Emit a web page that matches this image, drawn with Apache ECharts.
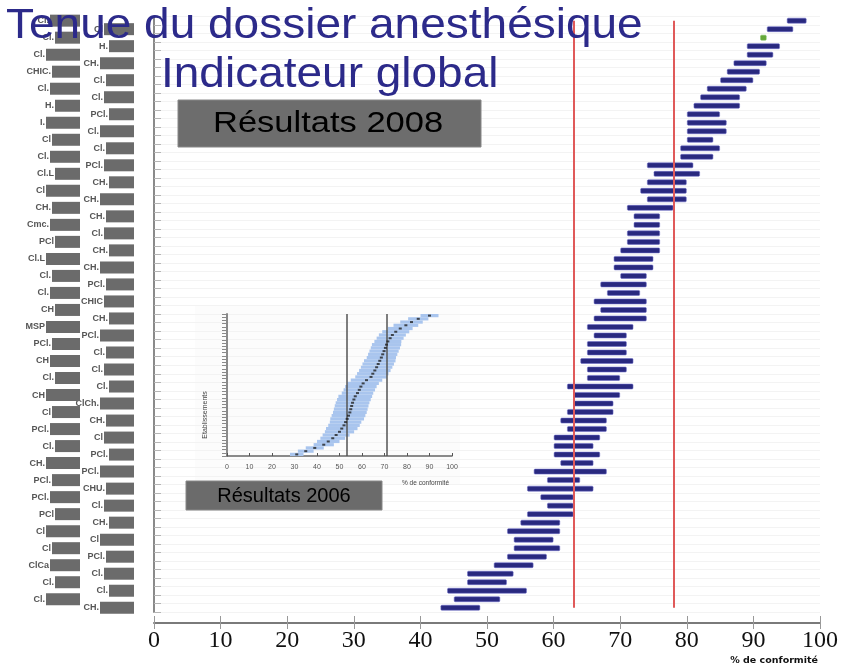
<!DOCTYPE html>
<html><head><meta charset="utf-8">
<script src="https://cdn.jsdelivr.net/npm/echarts@6/dist/echarts.min.js"></script>
<style>html,body{margin:0;padding:0;background:#fff}#c{width:841px;height:669px}</style>
</head><body><div id="c"></div>
<script>
// ---- data: 2008 (one row per establishment, top to bottom) ----
const labelsLeft = ['Cl.','Cl.','Cl.','CHIC.','Cl.','H.','I.','Cl','Cl.','Cl.L','Cl','CH.','Cmc.','PCl','Cl.L','Cl.','Cl.','CH','MSP','PCl.','CH','Cl.','CH','Cl','PCl.','Cl.','CH.','PCl.','PCl.','PCl','Cl','Cl','ClCa','Cl.','Cl.'];
const labelsRight = ['Cl','H.','CH.','Cl.','Cl.','PCl.','Cl.','Cl.','PCl.','CH.','CH.','CH.','Cl.','CH.','CH.','PCl.','CHIC','CH.','PCl.','Cl.','Cl.','Cl.','ClCh.','CH.','Cl','PCl.','PCl.','CHU.','Cl.','CH.','Cl','PCl.','Cl.','Cl.','CH.'];
const low2008  = [95,92,91,89,89,87,86,85,83,82,81,80,80,80,80,79,79,74,75,74,73,74,71,72,72,71,71,70,69,69,70,67,68,66,67,66,65,66,65,65,64,65,65,62,63,63,62,61,62,60,60,60,61,57,59,56,58,59,56,55,53,54,54,53,51,47,47,44,45,43];
const high2008 = [98,96,92,94,93,92,91,90,89,88,88,85,86,86,84,85,84,81,82,80,80,80,78,76,76,76,76,76,75,75,74,74,73,74,74,74,72,71,71,71,72,71,70,72,70,69,69,68,68,67,66,67,66,68,64,66,63,63,63,61,61,60,61,59,57,54,53,56,52,49];
const highlightRow = 2;
const refLines2008 = [63, 78];
const xTicks = [0,10,20,30,40,50,60,70,80,90,100];
// ---- data: 2006 inset (bottom to top) ----
const center2006 = [31,35,39,43,45,47,48.5,50,51,52,52.7,53.4,54,54.6,55,55.4,55.8,56.4,57,58,58.8,59.5,60.5,62,64,64.8,65.7,66.5,67.2,67.9,68.6,69.2,69.8,70.4,70.9,71.5,72.5,73.5,75,77,79.5,82,85,90];
const spread2006 = [3,3.5,4,4.5,5,5.5,6,6.5,7,7,7,7.5,7.5,7.5,7.5,7.5,7.5,7.5,7.5,7,7,7,7,7,7,7,7,7,7,7,6.5,6.5,6.5,6.5,6.5,6,6,6,6,5.5,5.5,5,4.5,4];
const refLines2006 = [53, 71];

// ---- build ----
const cats = [];
for (let i = 0; i < labelsLeft.length; i++) { cats.push(labelsLeft[i]); cats.push(labelsRight[i]); }
const rangeData = high2008.map((h, i) => {
  const item = { value: h - low2008[i] };
  if (i === highlightRow) item.itemStyle = { color: '#66a83a', borderColor: 'rgba(120,190,90,0.5)' };
  return item;
});
const insetCats = center2006.map((_, i) => String(i + 1));
const insetLow = center2006.map((c, i) => c - spread2006[i]);
const insetBand = spread2006.map(s => 2 * s);
const insetPts = center2006.map((c, i) => [c, i]);

const richBoxes = {
  t: { fontSize: 9, fontWeight: 'bold', color: '#555', fontFamily: 'Arial', padding: [0, 1, 0, 0] },
  b0: { width: 30, height: 12, backgroundColor: '#6b6b6b' },
  b1: { width: 25, height: 12, backgroundColor: '#6b6b6b' },
  b2: { width: 34, height: 12, backgroundColor: '#6b6b6b' },
  b3: { width: 28, height: 12, backgroundColor: '#6b6b6b' }
};
const fmt = (v, i) => '{t|' + v + '}{b' + (Math.floor(i / 2) % 4) + '|}';

const chart = echarts.init(document.getElementById('c'), null, { renderer: 'canvas' });
chart.setOption({
  animation: false,
  backgroundColor: '#ffffff',
  grid: [
    { left: 154, right: 19, top: 16.4, bottom: 57 },
    { left: 227, width: 225, top: 314, height: 142 }
  ],
  xAxis: [
    { gridIndex: 0, type: 'value', min: 0, max: 100, interval: 10, offset: 11,
      axisLine: { show: true, lineStyle: { color: '#7a7a7a', width: 2 } },
      axisTick: { show: true, inside: true, length: 7, lineStyle: { color: '#999', width: 1 } },
      axisLabel: { margin: 6, fontFamily: 'Liberation Serif', fontSize: 24, color: '#111' },
      splitLine: { show: false } },
    { gridIndex: 0, type: 'value', min: 0, max: 100, interval: 10, offset: 11, position: 'bottom',
      axisLine: { show: false }, axisTick: { show: true, inside: false, length: 6, lineStyle: { color: '#999' } },
      axisLabel: { show: false }, splitLine: { show: false } },
    { gridIndex: 1, type: 'value', min: 0, max: 100, interval: 10,
      axisLine: { show: true, lineStyle: { color: '#666', width: 1.5 } },
      axisTick: { show: true, inside: true, length: 3, lineStyle: { color: '#555' } },
      axisLabel: { margin: 8, fontSize: 7, color: '#555', fontFamily: 'Arial' },
      splitLine: { show: false } }
  ],
  yAxis: [
    { gridIndex: 0, type: 'category', data: cats, inverse: true, position: 'left', offset: 11,
      axisLine: { show: true, lineStyle: { color: '#8a8a8a', width: 2 } },
      axisTick: { show: true, inside: true, length: 7, interval: 0, lineStyle: { color: '#b5b5b5' } },
      splitLine: { show: true, interval: 0, lineStyle: { color: '#f3f3f3' } },
      axisLabel: { interval: (i) => i % 2 === 1, margin: 9, formatter: fmt, rich: richBoxes } },
    { gridIndex: 0, type: 'category', data: cats, inverse: true, position: 'left', offset: 11,
      axisLine: { show: false }, axisTick: { show: false }, splitLine: { show: false },
      axisLabel: { interval: (i) => i % 2 === 0, margin: 63, formatter: fmt, rich: richBoxes } },
    { gridIndex: 1, type: 'category', data: insetCats, position: 'left',
      axisLine: { show: true, lineStyle: { color: '#8a8a8a', width: 2 } },
      axisTick: { show: true, inside: false, length: 5, interval: 0, lineStyle: { color: '#8a8a8a' } },
      axisLabel: { show: false }, splitLine: { show: false } }
  ],
  series: [
    { type: 'bar', xAxisIndex: 0, yAxisIndex: 0, stack: 'r', data: low2008, barWidth: 6,
      itemStyle: { color: 'rgba(0,0,0,0)' }, silent: true },
    { type: 'bar', xAxisIndex: 0, yAxisIndex: 0, stack: 'r', data: rangeData, barWidth: 6,
      itemStyle: { color: '#29297f', borderColor: 'rgba(110,110,200,0.55)', borderWidth: 1, borderRadius: 1 },
      markLine: { silent: true, symbol: 'none', label: { show: false },
        lineStyle: { color: '#e05a5a', width: 2, type: 'solid' },
        data: refLines2008.map(v => [{ coord: [v, 0] }, { coord: [v, cats.length - 1] }]) } },
    { type: 'bar', xAxisIndex: 2, yAxisIndex: 2, stack: 'i', data: insetLow, barCategoryGap: '0%',
      itemStyle: { color: 'rgba(0,0,0,0)' }, silent: true },
    { type: 'bar', xAxisIndex: 2, yAxisIndex: 2, stack: 'i', data: insetBand, barCategoryGap: '0%',
      itemStyle: { color: '#a9c5ee' } },
    { type: 'scatter', xAxisIndex: 2, yAxisIndex: 2, data: insetPts, symbol: 'rect', symbolSize: [3, 2],
      itemStyle: { color: '#222' }, z: 5,
      markLine: { silent: true, symbol: 'none', label: { show: false },
        lineStyle: { color: '#555', width: 1.5, type: 'solid' },
        data: refLines2006.map(v => ({ xAxis: v })) } }
  ],
  graphic: [
    { type: 'rect', z: -10, shape: { x: 195, y: 305, width: 265, height: 180 }, style: { fill: '#fcfcfc' } },
    { type: 'text', z: 100, x: 6, y: 26, scaleX: 1.095,
      style: { text: 'Tenue du dossier anesthésique', font: '42px "Liberation Sans", Arial', fill: '#2c2a8a', align: 'left', verticalAlign: 'middle' } },
    { type: 'text', z: 100, x: 161, y: 75, scaleX: 1.095,
      style: { text: 'Indicateur global', font: '42px "Liberation Sans", Arial', fill: '#2c2a8a', align: 'left', verticalAlign: 'middle' } },
    { type: 'rect', z: 100, shape: { x: 178, y: 100, width: 303, height: 47 }, style: { fill: '#6d6d6d', stroke: '#888', lineWidth: 1 } },
    { type: 'text', z: 101, x: 213, y: 124, scaleX: 1.15,
      style: { text: 'Résultats 2008', font: '30px "Liberation Sans", Arial', fill: '#000', align: 'left', verticalAlign: 'middle' } },
    { type: 'rect', z: 100, shape: { x: 186, y: 481, width: 196, height: 29 }, style: { fill: '#6b6b6b', stroke: '#888', lineWidth: 1 } },
    { type: 'text', z: 101, x: 284, y: 496,
      style: { text: 'Résultats 2006', font: '20px "Liberation Sans", Arial', fill: '#000', align: 'center', verticalAlign: 'middle' } },
    { type: 'text', z: 100, x: 205, y: 415, rotation: Math.PI / 2,
      style: { text: 'Etablissements', font: '7px "Liberation Sans", Arial', fill: '#444', align: 'center', verticalAlign: 'middle' } },
    { type: 'text', z: 100, x: 449, y: 483,
      style: { text: '% de conformité', font: '6.5px "Liberation Sans", Arial', fill: '#444', align: 'right', verticalAlign: 'middle' } },
    { type: 'text', z: 100, x: 818, y: 661,
      style: { text: '% de conformité', font: 'bold 9.5px "DejaVu Sans"', fill: '#111', align: 'right', verticalAlign: 'middle' } }
  ]
});
</script></body></html>
